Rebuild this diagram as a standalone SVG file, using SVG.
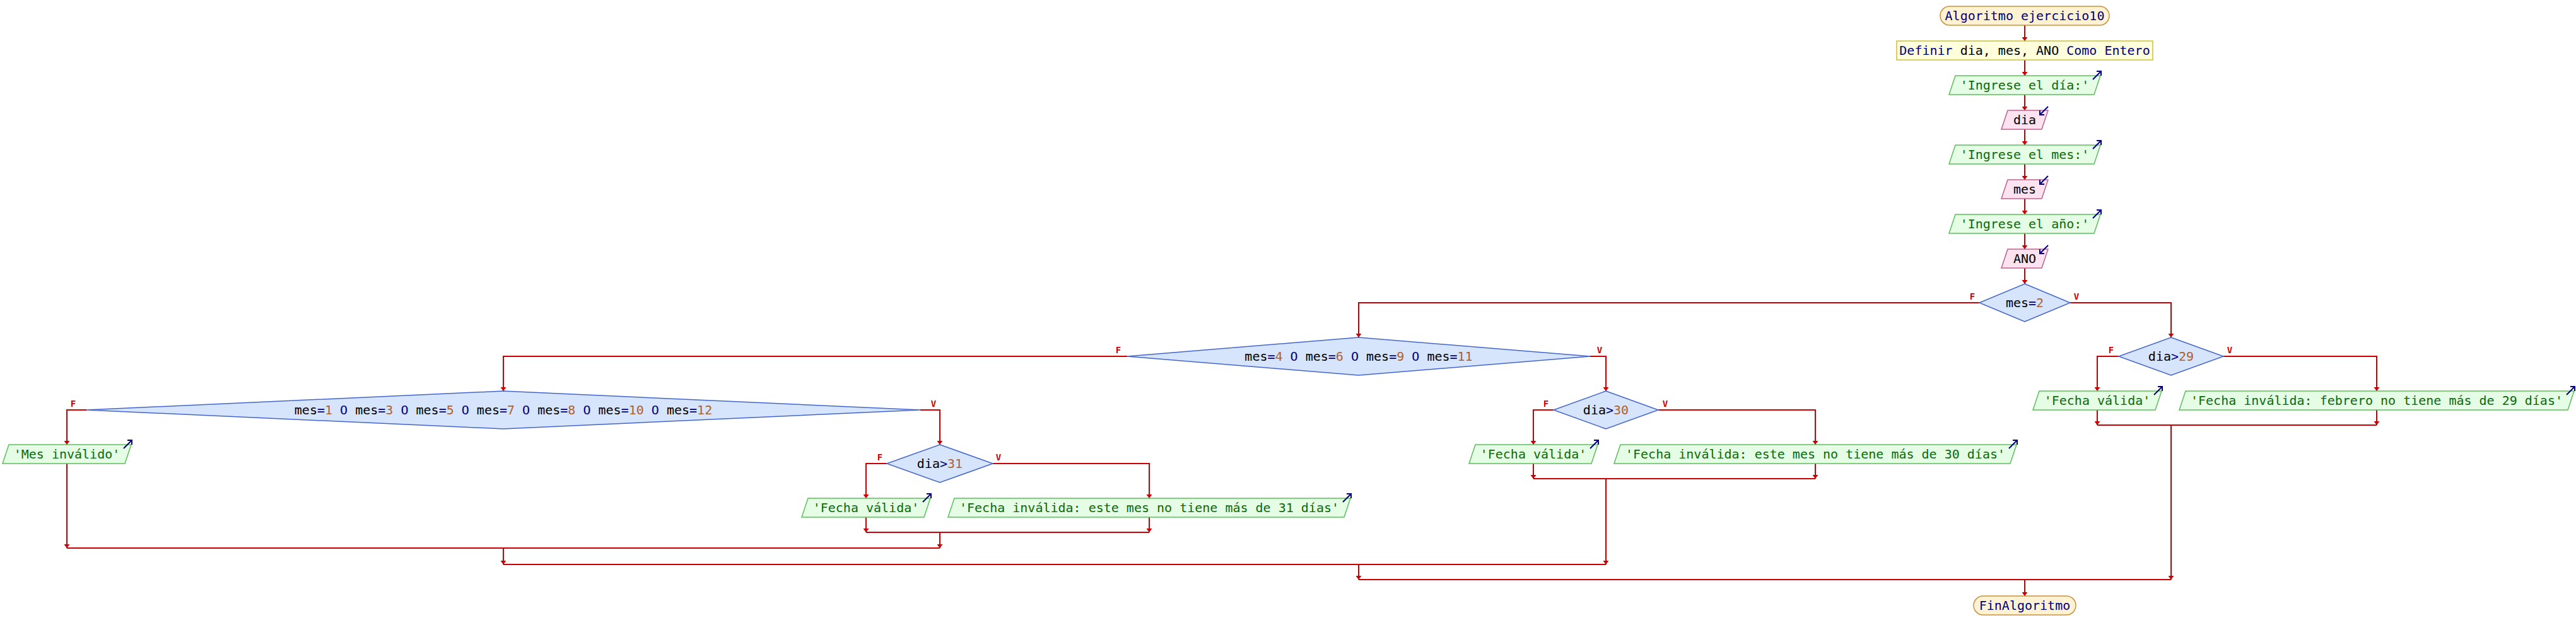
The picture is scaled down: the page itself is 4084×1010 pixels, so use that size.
<svg xmlns="http://www.w3.org/2000/svg" width="4084" height="1010" viewBox="0 0 4084 1010">
<style>
.bg{fill:#ffffff}
.term{fill:#fff2d2;stroke:#c8913c;stroke-width:1.5}
.proc{fill:#ffffdc;stroke:#c8c03c;stroke-width:1.5}
.out{fill:#e4fde4;stroke:#5cbf5c;stroke-width:1.5}
.in{fill:#fde2ef;stroke:#c0608e;stroke-width:1.5}
.dec{fill:#d6e4fc;stroke:#4466cc;stroke-width:1.5}
.icon{fill:none;stroke:#000080;stroke-width:2}
.t{font-family:"DejaVu Sans Mono","Liberation Mono",monospace;font-size:20px;text-anchor:middle;white-space:pre;fill:#000000}
.kw{fill:#000080}
.num{fill:#b0602a}
.str{fill:#0a6a0a}
.lbl{font-family:"DejaVu Sans Mono","Liberation Mono",monospace;font-size:14px;font-weight:bold;fill:#cc0000;text-anchor:middle}
.c{fill:none;stroke:#cc0000;stroke-width:2}
.ca{fill:none;stroke:#cc0000;stroke-width:2;marker-end:url(#ah)}
</style>
<defs>
<marker id="ah" viewBox="0 0 6 9" refX="6" refY="4.5" markerWidth="6" markerHeight="9" markerUnits="userSpaceOnUse" orient="auto">
<path d="M0,0 L6,4.5 L0,9 z" fill="#cc0000"/>
</marker>
</defs>
<rect class="bg" x="0" y="0" width="4084" height="1010"/>

<g id="connectors">
<path class="ca" d="M3210,40 V65"/>
<path class="ca" d="M3210,95 V120"/>
<path class="ca" d="M3210,150 V175"/>
<path class="ca" d="M3210,205 V230"/>
<path class="ca" d="M3210,260 V285"/>
<path class="ca" d="M3210,315 V340"/>
<path class="ca" d="M3210,370 V395"/>
<path class="ca" d="M3210,425 V450"/>
<path class="ca" d="M3138,480 H2154 V535"/>
<path class="ca" d="M3282,480 H3442 V535"/>
<path class="ca" d="M3359,565 H3325 V620"/>
<path class="ca" d="M3525,565 H3768 V620"/>
<path class="ca" d="M3325,650 V674"/>
<path class="ca" d="M3768,650 V674"/>
<path class="c" d="M3325,674 H3768"/>
<path class="ca" d="M3442,674 V919"/>
<path class="ca" d="M1787,565 H798 V620"/>
<path class="ca" d="M2521,565 H2546 V620"/>
<path class="ca" d="M2463,650 H2431 V705"/>
<path class="ca" d="M2629,650 H2878 V705"/>
<path class="ca" d="M2431,735 V759"/>
<path class="ca" d="M2878,735 V759"/>
<path class="c" d="M2431,759 H2878"/>
<path class="ca" d="M2546,759 V895"/>
<path class="ca" d="M137,650 H106 V705"/>
<path class="ca" d="M1459,650 H1490 V705"/>
<path class="ca" d="M1406,735 H1373 V790"/>
<path class="ca" d="M1574,735 H1822 V790"/>
<path class="ca" d="M1373,820 V844"/>
<path class="ca" d="M1822,820 V844"/>
<path class="c" d="M1373,844 H1822"/>
<path class="ca" d="M1490,844 V869"/>
<path class="ca" d="M106,735 V869"/>
<path class="c" d="M106,869 H1490"/>
<path class="ca" d="M798,869 V895"/>
<path class="c" d="M798,895 H2546"/>
<path class="ca" d="M2154,895 V919"/>
<path class="c" d="M2154,919 H3442"/>
<path class="ca" d="M3210,919 V945"/>
</g>

<g id="labels">
<text class="lbl" x="3127" y="475">F</text>
<text class="lbl" x="3292" y="475">V</text>
<text class="lbl" x="3347" y="560">F</text>
<text class="lbl" x="3535" y="560">V</text>
<text class="lbl" x="1773" y="560">F</text>
<text class="lbl" x="2536" y="560">V</text>
<text class="lbl" x="2451" y="645">F</text>
<text class="lbl" x="2640" y="645">V</text>
<text class="lbl" x="116" y="645">F</text>
<text class="lbl" x="1480" y="645">V</text>
<text class="lbl" x="1395" y="730">F</text>
<text class="lbl" x="1583" y="730">V</text>
</g>

<g id="start">
<rect class="term" x="3076" y="10" width="268" height="30" rx="15"/>
<text class="t kw" x="3210" y="32">Algoritmo ejercicio10</text>
</g>

<g id="definir">
<rect class="proc" x="3007" y="65" width="406" height="30"/>
<text class="t" x="3210" y="87"><tspan class="kw">Definir</tspan> dia, mes, ANO <tspan class="kw">Como Entero</tspan></text>
</g>

<g id="out_dia">
<polygon class="out" points="3100,120 3330,120 3320,150 3090,150"/>
<path class="icon" d="M3318,126 L3331,113 M3324,113 L3331,113 L3331,120"/>
<text class="t str" x="3210" y="142">'Ingrese el día:'</text>
</g>

<g id="in_dia">
<polygon class="in" points="3183,175 3247,175 3237,205 3173,205"/>
<path class="icon" d="M3247,169 L3234,182 M3241,182 L3234,182 L3234,175"/>
<text class="t" x="3210" y="197">dia</text>
</g>

<g id="out_mes">
<polygon class="out" points="3100,230 3330,230 3320,260 3090,260"/>
<path class="icon" d="M3318,236 L3331,223 M3324,223 L3331,223 L3331,230"/>
<text class="t str" x="3210" y="252">'Ingrese el mes:'</text>
</g>

<g id="in_mes">
<polygon class="in" points="3183,285 3247,285 3237,315 3173,315"/>
<path class="icon" d="M3247,279 L3234,292 M3241,292 L3234,292 L3234,285"/>
<text class="t" x="3210" y="307">mes</text>
</g>

<g id="out_ano">
<polygon class="out" points="3100,340 3330,340 3320,370 3090,370"/>
<path class="icon" d="M3318,346 L3331,333 M3324,333 L3331,333 L3331,340"/>
<text class="t str" x="3210" y="362">'Ingrese el año:'</text>
</g>

<g id="in_ano">
<polygon class="in" points="3183,395 3247,395 3237,425 3173,425"/>
<path class="icon" d="M3247,389 L3234,402 M3241,402 L3234,402 L3234,395"/>
<text class="t" x="3210" y="417">ANO</text>
</g>

<g id="dec_mes2">
<polygon class="dec" points="3210,450 3282,480 3210,510 3138,480"/>
<text class="t" x="3210" y="487">mes<tspan class="kw">=</tspan><tspan class="num">2</tspan></text>
</g>

<g id="dec_dia29">
<polygon class="dec" points="3442,535 3525,565 3442,595 3359,565"/>
<text class="t" x="3442" y="572">dia<tspan class="kw">&gt;</tspan><tspan class="num">29</tspan></text>
</g>

<g id="out_valida29">
<polygon class="out" points="3233,620 3427,620 3417,650 3223,650"/>
<path class="icon" d="M3415,626 L3428,613 M3421,613 L3428,613 L3428,620"/>
<text class="t str" x="3325" y="642">'Fecha válida'</text>
</g>

<g id="out_invalida29">
<polygon class="out" points="3465,620 4081,620 4071,650 3455,650"/>
<path class="icon" d="M4069,626 L4082,613 M4075,613 L4082,613 L4082,620"/>
<text class="t str" x="3768" y="642">'Fecha inválida: febrero no tiene más de 29 días'</text>
</g>

<g id="dec_mes30">
<polygon class="dec" points="2154,535 2521,565 2154,595 1787,565"/>
<text class="t" x="2154" y="572">mes<tspan class="kw">=</tspan><tspan class="num">4</tspan><tspan class="kw"> O </tspan>mes<tspan class="kw">=</tspan><tspan class="num">6</tspan><tspan class="kw"> O </tspan>mes<tspan class="kw">=</tspan><tspan class="num">9</tspan><tspan class="kw"> O </tspan>mes<tspan class="kw">=</tspan><tspan class="num">11</tspan></text>
</g>

<g id="dec_dia30">
<polygon class="dec" points="2546,620 2629,650 2546,680 2463,650"/>
<text class="t" x="2546" y="657">dia<tspan class="kw">&gt;</tspan><tspan class="num">30</tspan></text>
</g>

<g id="out_valida30">
<polygon class="out" points="2339,705 2533,705 2523,735 2329,735"/>
<path class="icon" d="M2521,711 L2534,698 M2527,698 L2534,698 L2534,705"/>
<text class="t str" x="2431" y="727">'Fecha válida'</text>
</g>

<g id="out_invalida30">
<polygon class="out" points="2569,705 3197,705 3187,735 2559,735"/>
<path class="icon" d="M3185,711 L3198,698 M3191,698 L3198,698 L3198,705"/>
<text class="t str" x="2878" y="727">'Fecha inválida: este mes no tiene más de 30 días'</text>
</g>

<g id="dec_mes31">
<polygon class="dec" points="798,620 1459,650 798,680 137,650"/>
<text class="t" x="798" y="657">mes<tspan class="kw">=</tspan><tspan class="num">1</tspan><tspan class="kw"> O </tspan>mes<tspan class="kw">=</tspan><tspan class="num">3</tspan><tspan class="kw"> O </tspan>mes<tspan class="kw">=</tspan><tspan class="num">5</tspan><tspan class="kw"> O </tspan>mes<tspan class="kw">=</tspan><tspan class="num">7</tspan><tspan class="kw"> O </tspan>mes<tspan class="kw">=</tspan><tspan class="num">8</tspan><tspan class="kw"> O </tspan>mes<tspan class="kw">=</tspan><tspan class="num">10</tspan><tspan class="kw"> O </tspan>mes<tspan class="kw">=</tspan><tspan class="num">12</tspan></text>
</g>

<g id="out_mesinvalido">
<polygon class="out" points="14,705 208,705 198,735 4,735"/>
<path class="icon" d="M196,711 L209,698 M202,698 L209,698 L209,705"/>
<text class="t str" x="106" y="727">'Mes inválido'</text>
</g>

<g id="dec_dia31">
<polygon class="dec" points="1490,705 1574,735 1490,765 1406,735"/>
<text class="t" x="1490" y="742">dia<tspan class="kw">&gt;</tspan><tspan class="num">31</tspan></text>
</g>

<g id="out_valida31">
<polygon class="out" points="1281,790 1475,790 1465,820 1271,820"/>
<path class="icon" d="M1463,796 L1476,783 M1469,783 L1476,783 L1476,790"/>
<text class="t str" x="1373" y="812">'Fecha válida'</text>
</g>

<g id="out_invalida31">
<polygon class="out" points="1513,790 2141,790 2131,820 1503,820"/>
<path class="icon" d="M2129,796 L2142,783 M2135,783 L2142,783 L2142,790"/>
<text class="t str" x="1822" y="812">'Fecha inválida: este mes no tiene más de 31 días'</text>
</g>

<g id="end">
<rect class="term" x="3129" y="945" width="162" height="30" rx="15"/>
<text class="t kw" x="3210" y="967">FinAlgoritmo</text>
</g>
</svg>
